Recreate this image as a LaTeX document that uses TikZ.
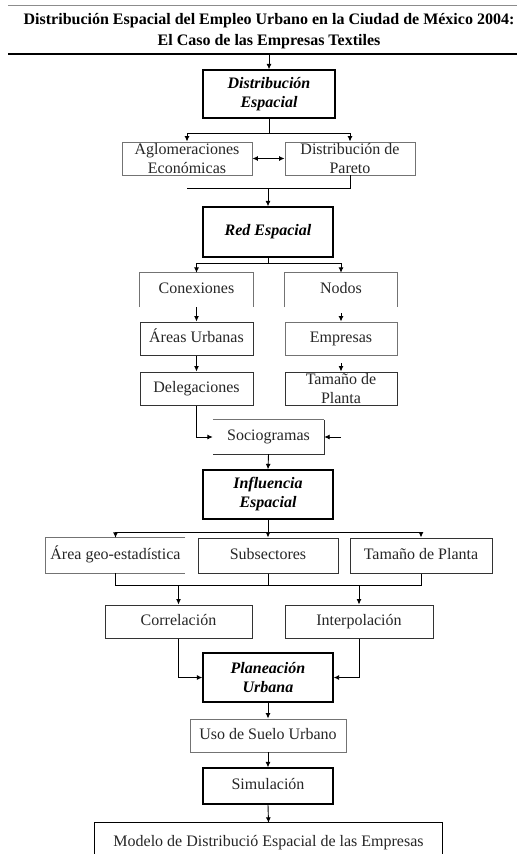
\documentclass[tikz,border=0pt]{standalone}
\usepackage{fontspec}
\setmainfont{Liberation Serif}
\usetikzlibrary{arrows.meta}
\begin{document}
\begin{tikzpicture}[x=1pt,y=-1pt,
 txt/.style={font=\fontsize{16}{19}\selectfont, text=black!85, align=center, inner sep=0pt},
 one/.style={text height=11pt, text depth=3.5pt},
 bi/.style={font=\fontsize{16}{19}\selectfont\bfseries\itshape, align=center, inner sep=0pt},
 bx/.style={inner sep=0pt, anchor=center},
 heavy/.style={draw=black, line width=1.3pt},
 medium/.style={draw=black!80, line width=1pt},
 light/.style={draw=black!55, line width=0.9pt},
 arr/.style={-{Latex[length=5.5pt,width=5pt]}, line width=0.9pt},
 darr/.style={{Latex[length=5.5pt,width=5pt]}-{Latex[length=5.5pt,width=5pt]}, line width=0.9pt},
 ln/.style={line width=0.9pt}]
\useasboundingbox (0,0) rectangle (517,854);
\fill[white] (0,0) rectangle (517,854);

% title
\draw[black!45, line width=0.8pt] (8,5) -- (517,5);
\node[font=\fontsize{16}{21}\selectfont\bfseries, align=center, inner sep=0pt] (title) at (269,31)
  {Distribución Espacial del Empleo Urbano en la Ciudad de México 2004:\\El Caso de las Empresas Textiles};
\draw[line width=1.4pt] (8,54) -- (517,54);
\coordinate (top) at (269,54);

% boxes
\node[bx, heavy, minimum width=132, minimum height=48] (DE) at (269,94) {};
\node[bi] (DEt) at (DE) {Distribución\\Espacial};
\node[bx, light, minimum width=130, minimum height=33] (AE) at (187,158.5) {};
\node[txt] (AEt) at (AE) {Aglomeraciones\\Económicas};
\node[bx, light, minimum width=130, minimum height=33] (DP) at (350,158.5) {};
\node[txt] (DPt) at (DP) {Distribución de\\Pareto};
\node[bx, heavy, minimum width=130, minimum height=50, bi, one] (RE) at (268,232) {Red Espacial};

\node[bx, minimum width=113, minimum height=34, txt, one] (CX) at (196.5,290) {Conexiones};
\draw[light] (CX.south west) -- (CX.north west) -- (CX.north east) -- (CX.south east);
\node[bx, minimum width=112, minimum height=34, txt, one] (ND) at (341,290) {Nodos};
\draw[light] (ND.south west) -- (ND.north west) -- (ND.north east) -- (ND.south east);

\node[bx, medium, minimum width=113, minimum height=33, txt, one] (AU) at (196.5,338.5) {Áreas Urbanas};
\node[bx, light, minimum width=112, minimum height=33, txt, one] (EM) at (341,338.5) {Empresas};
\node[bx, medium, minimum width=113, minimum height=33, txt, one] (DL) at (196.5,388.5) {Delegaciones};
\node[bx, medium, minimum width=112, minimum height=33] (TP) at (341,388.5) {};
\node[txt] (TPt) at (TP) {Tamaño de\\Planta};

\node[bx, minimum width=111, minimum height=34, txt, one] (SO) at (268.5,437) {Sociogramas};
\draw[light] (SO.north west) -- (SO.north east);
\draw[medium] (SO.north east) -- (SO.south east) -- (SO.south west);

\node[bx, heavy, minimum width=130, minimum height=49] (IE) at (268,494.5) {};
\node[bi] (IEt) at (IE) {Influencia\\Espacial};

\node[bx, minimum width=139, minimum height=35, txt, one] (AG) at (115.5,555.5) {Área geo-estadística};
\draw[light] (AG.north east) -- (AG.north west) -- (AG.south west) -- (AG.south east);
\node[bx, medium, minimum width=140, minimum height=35, txt, one] (SS) at (268,555.5) {Subsectores};
\node[bx, medium, minimum width=142, minimum height=35, txt, one] (TQ) at (421,555.5) {Tamaño de Planta};

\node[bx, medium, minimum width=147, minimum height=33, txt, one] (CO) at (178.5,621.5) {Correlación};
\node[bx, medium, minimum width=148, minimum height=33, txt, one] (IN) at (359,621.5) {Interpolación};

\node[bx, heavy, minimum width=130, minimum height=49] (PU) at (268,677.5) {};
\node[bi] (PUt) at (PU) {Planeación\\Urbana};
\node[bx, light, minimum width=156, minimum height=33, txt, one] (US) at (268,735.5) {Uso de Suelo Urbano};
\node[bx, heavy, minimum width=130, minimum height=36, txt, one] (SI) at (268,786) {Simulación};
\node[bx, minimum width=347, minimum height=40, txt, one] (MO) at (268.5,843) {Modelo de Distribució Espacial de las Empresas};
\draw[heavy] (MO.south west) -- (MO.north west) -- (MO.north east) -- (MO.south east);

% connectors
\draw[arr] (top) -- (DE.north);
\draw[arr] (DE.south) -- ++(0,15) -| (AE.north);
\draw[arr] (DE.south) -- ++(0,15) -| (DP.north);
\draw[darr] (AE.east) -- (DP.west);
\coordinate (j1) at (187,188);
\draw[ln] (DP.south) |- (j1);
\draw[arr] (RE.north |- j1) -- (RE.north);

\draw[arr] (RE.south) -- ++(0,6) -| (CX.north);
\draw[arr] (RE.south) -- ++(0,6) -| (ND.north);
\draw[arr] (CX.south) -- (AU.north);
\draw[arr] ([yshift=-6pt]ND.south) -- (EM.north);
\draw[arr] (AU.south) -- (DL.north);
\draw[arr] ([yshift=-8pt]EM.south) -- (TP.north);

\draw[arr] (DL.south) |- (SO.west);
\coordinate (sr) at (341,437);
\draw[arr] (sr) -- (SO.east);
\draw[arr] (SO.south) -- (IE.north);

\draw[arr] (IE.south) -- ++(0,13) -| (AG.north);
\draw[arr] (IE.south) -- ++(0,13) -| (SS.north);
\draw[arr] (IE.south) -- ++(0,13) -| (TQ.north);

\coordinate (j3) at (0,585);
\draw[ln] (AG.south) |- (TQ.south |- j3) -- (TQ.south);
\draw[ln] (SS.south) -- (SS.south |- j3);
\draw[arr] (CO.north |- j3) -- (CO.north);
\draw[arr] (IN.north |- j3) -- (IN.north);

\draw[arr] (CO.south) |- (PU.west);
\draw[arr] (IN.south) |- (PU.east);
\draw[arr] (PU.south) -- (US.north);
\draw[arr] (US.south) -- (SI.north);
\draw[arr] (SI.south) -- (MO.north);
\end{tikzpicture}
\end{document}
